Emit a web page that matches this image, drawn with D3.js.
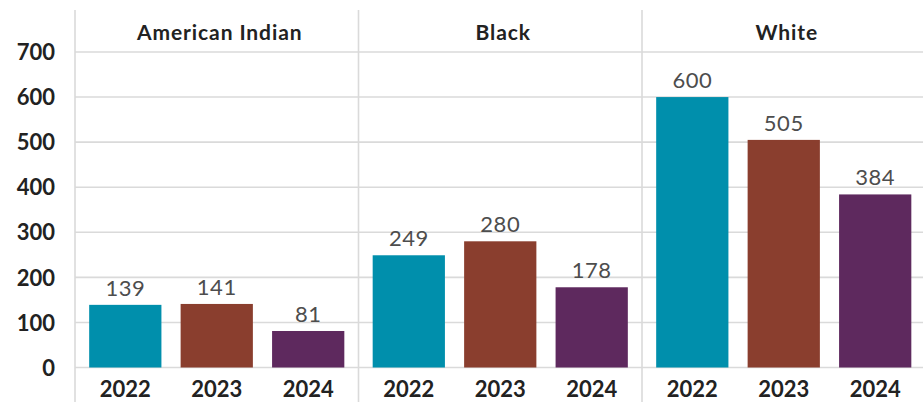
<!DOCTYPE html>
<html>
<head>
<meta charset="utf-8">
<script src="https://cdn.jsdelivr.net/npm/d3@7"></script>
<style>
  html, body { margin: 0; padding: 0; background: #fff; }
  svg { display: block; font-family: Lato, "Open Sans", sans-serif; }
</style>
</head>
<body>
<svg id="chart" width="923" height="402"></svg>
<script>
// Panels, years and counts
const groups = ["American Indian", "Black", "White"];
const years = ["2022", "2023", "2024"];
const americanIndian = [139, 141, 81];
const black = [249, 280, 178];
const white = [600, 505, 384];
const yTicks = [0, 100, 200, 300, 400, 500, 600, 700];
const yearColors = ["#008fac", "#8a3e2e", "#5e295e"];

const seriesByGroup = [americanIndian, black, white];

const svg = d3.select("#chart");
const W = 923, H = 402;
const plotLeft = 75, plotRight = 925.5;
const yZero = 367.5, yTop = 52;

const y = d3.scaleLinear().domain([0, 700]).range([yZero, yTop]);
const xPanel = d3.scaleBand().domain(groups).range([plotLeft, plotRight]).padding(0);
const xYear = d3.scaleBand().domain(years).range([0, xPanel.bandwidth()])
  .paddingInner(0.21).paddingOuter(0.155);
const color = d3.scaleOrdinal().domain(years).range(yearColors);

const gridColor = "#dadada";

// horizontal gridlines
svg.append("g").selectAll("line").data(yTicks).join("line")
  .attr("x1", plotLeft).attr("x2", W)
  .attr("y1", d => y(d)).attr("y2", d => y(d))
  .attr("stroke", gridColor).attr("stroke-width", 1.6);

// panel dividers
svg.append("g").selectAll("line").data(groups).join("line")
  .attr("x1", d => xPanel(d)).attr("x2", d => xPanel(d))
  .attr("y1", 10).attr("y2", H)
  .attr("stroke", gridColor).attr("stroke-width", 1.6);

// y-axis tick labels
const yAxis = d3.axisLeft(y).tickValues(yTicks).tickSize(0).tickPadding(0);
const ya = svg.append("g").attr("transform", "translate(55,0)").call(yAxis);
ya.select(".domain").remove();
ya.selectAll("text")
  .attr("font-family", "Lato, sans-serif")
  .attr("font-size", 22).attr("font-weight", 700)
  .attr("fill", "#222").attr("x", 0).attr("dy", "0.35em");

// panel contents
const panels = svg.append("g").selectAll("g").data(groups).join("g")
  .attr("transform", d => `translate(${xPanel(d)},0)`);

panels.append("text")
  .attr("x", xPanel.bandwidth() / 2 + 3).attr("y", 40)
  .attr("text-anchor", "middle")
  .attr("font-size", 21).attr("font-weight", 700).attr("fill", "#222")
  .attr("letter-spacing", 0.9)
  .text(d => d);

panels.each(function(g, gi) {
  const vals = seriesByGroup[gi].map((v, i) => ({ year: years[i], value: v }));
  const p = d3.select(this);

  p.selectAll("rect").data(vals).join("rect")
    .attr("x", d => xYear(d.year))
    .attr("width", xYear.bandwidth())
    .attr("y", d => y(d.value))
    .attr("height", d => y(0) - y(d.value))
    .attr("fill", d => color(d.year));

  p.selectAll("text.val").data(vals).join("text")
    .attr("class", "val")
    .attr("x", d => xYear(d.year) + xYear.bandwidth() / 2)
    .attr("y", d => y(d.value) - 9)
    .attr("text-anchor", "middle")
    .attr("font-size", 22).attr("font-weight", 400).attr("fill", "#4d4d4d")
    .attr("letter-spacing", 0.5)
    .text(d => d.value);

  const xa = p.append("g").attr("transform", `translate(0,${yZero})`)
    .call(d3.axisBottom(xYear).tickSize(0).tickPadding(0));
  xa.select(".domain").remove();
  xa.selectAll("text")
    .attr("font-family", "Lato, sans-serif")
    .attr("font-size", 22).attr("font-weight", 700).attr("fill", "#222")
    .attr("y", 29).attr("dy", 0);
});
</script>
</body>
</html>
